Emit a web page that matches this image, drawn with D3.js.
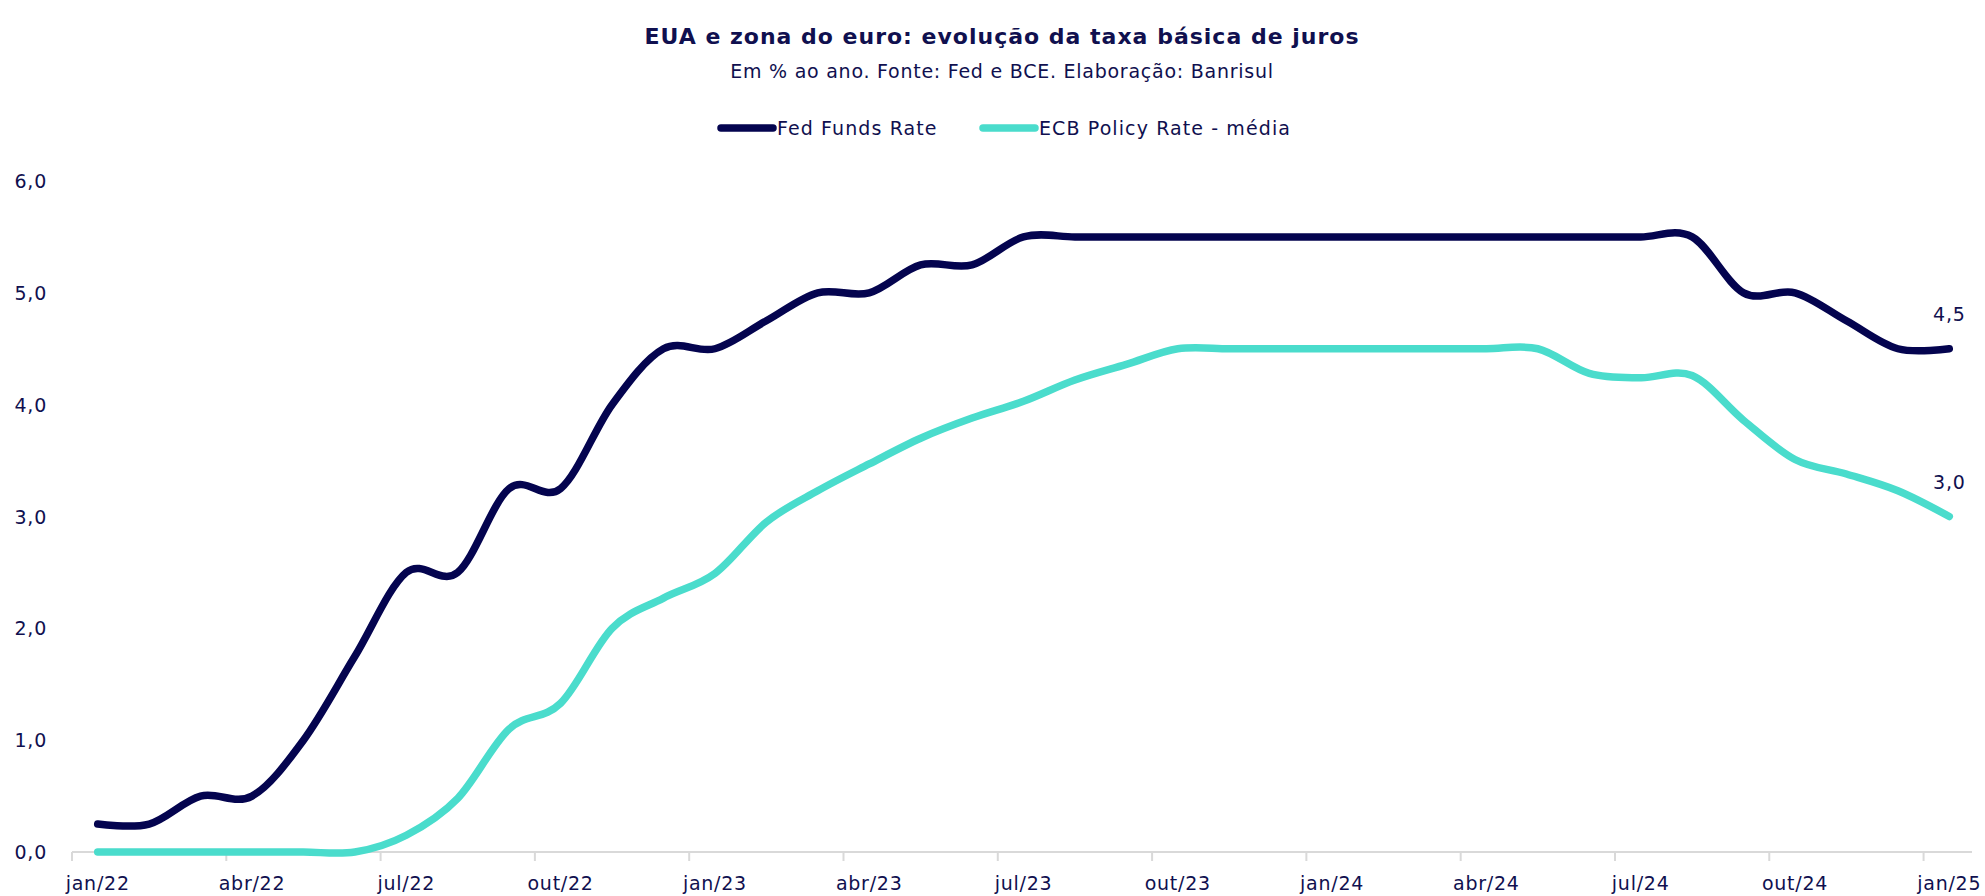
<!DOCTYPE html>
<html>
<head>
<meta charset="utf-8">
<script src="https://cdn.jsdelivr.net/npm/d3@7"></script>
<style>
  html, body { margin: 0; padding: 0; background: #ffffff; }
  svg text { font-family: "DejaVu Sans", sans-serif; fill: #10104f; letter-spacing: 0.75px; }
</style>
</head>
<body>
<div id="chart"></div>
<script>
const WIDTH = 1985;
const HEIGHT = 896;
const NAVY = '#04044f';
const TEAL = '#4adccc';
const AXIS_GRAY = '#d9d9d9';

const monthNames = ['jan', 'fev', 'mar', 'abr', 'mai', 'jun', 'jul', 'ago', 'set', 'out', 'nov', 'dez'];
const years = ['22', '23', '24', '25'];

// jan/22 .. jan/25, one label per month
const months = years.flatMap(y => monthNames.map(m => `${m}/${y}`)).slice(0, 37);

const fedFunds = [
  0.25, 0.25, 0.5, 0.5, 1.0, 1.75, 2.5, 2.5, 3.25, 3.25, 4.0, 4.5,
  4.5, 4.75, 5.0, 5.0, 5.25, 5.25, 5.5, 5.5, 5.5, 5.5, 5.5, 5.5,
  5.5, 5.5, 5.5, 5.5, 5.5, 5.5, 5.5, 5.5, 5.0, 5.0, 4.75, 4.5,
  4.5
];

const ecbAverage = [
  0, 0, 0, 0, 0, 0, 0.15, 0.48, 1.1, 1.33, 2.0, 2.27,
  2.49, 2.95, 3.23, 3.47, 3.7, 3.88, 4.03, 4.22, 4.36, 4.5, 4.5, 4.5,
  4.5, 4.5, 4.5, 4.5, 4.5, 4.28, 4.24, 4.26, 3.86, 3.51, 3.38, 3.23,
  3.0
];

const yTicks = [0, 1, 2, 3, 4, 5, 6];

const series = [
  { name: 'Fed Funds Rate', color: NAVY, values: fedFunds },
  { name: 'ECB Policy Rate - média', color: TEAL, values: ecbAverage }
];

const ptBR = d3.formatLocale({ decimal: ',', thousands: '.', grouping: [3], currency: ['R$', ''] });
const fmt = ptBR.format('.1f');

const svg = d3.select('#chart')
  .append('svg')
  .attr('width', WIDTH)
  .attr('height', HEIGHT)
  .style('display', 'block');

svg.append('rect').attr('width', WIDTH).attr('height', HEIGHT).attr('fill', '#fff');

const x = d3.scaleBand().domain(months).range([72, 1975]).paddingInner(0).paddingOuter(0);
const cx = m => x(m) + x.bandwidth() / 2;
const y = d3.scaleLinear().domain([0, 6]).range([852, 181]);

// titles
svg.append('text')
  .attr('x', 1002).attr('y', 44)
  .attr('text-anchor', 'middle')
  .style('font-size', '22px').style('font-weight', 700).style('letter-spacing', '1px')
  .text('EUA e zona do euro: evolução da taxa básica de juros');

svg.append('text')
  .attr('x', 1002).attr('y', 78)
  .attr('text-anchor', 'middle')
  .style('font-size', '19px')
  .text('Em % ao ano. Fonte: Fed e BCE. Elaboração: Banrisul');

// legend
const legendX = [717, 979];
const legend = svg.append('g').selectAll('g')
  .data(series)
  .join('g')
  .attr('transform', (d, i) => `translate(${legendX[i]},128)`);

legend.append('line')
  .attr('x1', 4).attr('x2', 56)
  .attr('stroke', d => d.color)
  .attr('stroke-width', 7.5)
  .attr('stroke-linecap', 'round');

legend.append('text')
  .attr('x', 60).attr('y', 7)
  .style('font-size', '19px').style('letter-spacing', '1.1px')
  .text(d => d.name);

// y axis labels (no line, no grid)
svg.append('g').selectAll('text')
  .data(yTicks)
  .join('text')
  .attr('x', 47)
  .attr('y', d => y(d) + 7)
  .attr('text-anchor', 'end')
  .style('font-size', '19px')
  .text(d => fmt(d));

// x axis
const xAxis = svg.append('g');
xAxis.append('line')
  .attr('x1', 72).attr('x2', 1972)
  .attr('y1', y(0)).attr('y2', y(0))
  .attr('stroke', AXIS_GRAY).attr('stroke-width', 2);

const tickMonths = months.filter((m, i) => i % 3 === 0);

xAxis.selectAll('.tick-mark')
  .data(tickMonths)
  .join('line')
  .attr('class', 'tick-mark')
  .attr('x1', d => x(d)).attr('x2', d => x(d))
  .attr('y1', y(0)).attr('y2', y(0) + 9)
  .attr('stroke', AXIS_GRAY).attr('stroke-width', 2);

xAxis.selectAll('.tick-label')
  .data(tickMonths)
  .join('text')
  .attr('class', 'tick-label')
  .attr('x', d => cx(d))
  .attr('y', 890)
  .attr('text-anchor', 'middle')
  .style('font-size', '19px')
  .text(d => d);

// lines
const line = d3.line()
  .x((d, i) => cx(months[i]))
  .y(d => y(d))
  .curve(d3.curveCardinal.tension(0));

svg.append('g').selectAll('path')
  .data(series)
  .join('path')
  .attr('d', d => line(d.values))
  .attr('fill', 'none')
  .attr('stroke', d => d.color)
  .attr('stroke-width', 7.5)
  .attr('stroke-linecap', 'round')
  .attr('stroke-linejoin', 'round');

// end labels
const last = months.length - 1;
svg.append('g').selectAll('text')
  .data(series)
  .join('text')
  .attr('x', cx(months[last]))
  .attr('y', d => y(d.values[last]) - 28)
  .attr('text-anchor', 'middle')
  .style('font-size', '19px')
  .text(d => fmt(d.values[last]));
</script>
</body>
</html>
